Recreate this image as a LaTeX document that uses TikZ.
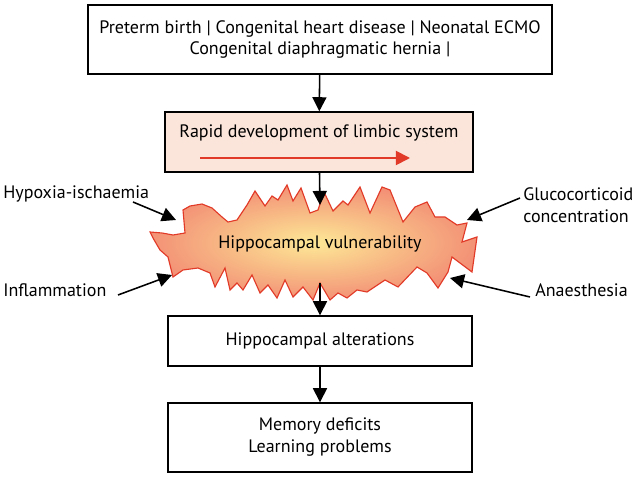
\documentclass[tikz,border=0pt]{standalone}
\usepackage{fontspec}
\setmainfont{PT Sans}
\usetikzlibrary{arrows.meta}
\definecolor{boxpink}{RGB}{251,228,218}
\definecolor{flamered}{RGB}{226,58,40}
\definecolor{flamecore}{RGB}{253,232,150}
\definecolor{flameedge}{RGB}{243,145,118}

\begin{document}
\begin{tikzpicture}[x=0.025cm,y=-0.025cm,
  every node/.style={font=\fontsize{12.8}{15.6}\selectfont},
  Box/.style={draw,line width=1pt,minimum width=7.6cm,align=center},
  Cause/.style={align=left,inner sep=0pt},
  Flow/.style={line width=1.1pt,-{Triangle[width=10pt,length=10pt]}}]
  \useasboundingbox (0,0) rectangle (638,477);
  \node[Box,minimum width=11.6cm,minimum height=1.725cm] (causes) at (320,39.5)
    {Preterm birth | Congenital heart disease | Neonatal ECMO\\Congenital diaphragmatic hernia |};
  \node[Box,fill=boxpink,minimum width=7.7cm,minimum height=1.5cm] (limbic) at (319,142) {};
  \node (limbtext) at (319,133) {Rapid development of limbic system};
  \coordinate (devstart) at (200,158);
  \coordinate (devend) at (410,158);
  \draw[line width=1.3pt,flamered,-{Triangle[width=10pt,length=10pt]}] (devstart) -- (devend);
  \shade[inner color=flamecore,outer color=flameedge,draw=flamered,line width=0.8pt]
    (183,210) -- (190,206) -- (202,204) -- (212,208) -- (222,217) -- (228,222) -- (237,220)
    -- (247,205) -- (255,191) -- (265,206) -- (272,196) -- (278,200) -- (287,185) -- (293,201)
    -- (301,188) -- (310,213) -- (318,210) -- (324,192) -- (333,211) -- (343,201) -- (348,205)
    -- (360,187) -- (370,213) -- (382,187) -- (390,190) -- (403,222) -- (415,207) -- (427,202)
    -- (435,217) -- (445,217) -- (457,225) -- (467,223) -- (462,242) -- (477,237) -- (472,272)
    -- (452,257) -- (448,272) -- (438,288) -- (427,273) -- (417,267) -- (398,287) -- (385,280)
    -- (367,292) -- (357,290) -- (347,298) -- (338,293) -- (330,300) -- (320,283) -- (313,300)
    -- (303,287) -- (293,297) -- (285,280) -- (277,298) -- (268,285) -- (260,293) -- (252,275)
    -- (243,290) -- (237,283) -- (230,290) -- (225,268) -- (215,287) -- (210,273) -- (198,268)
    -- (183,270) -- (173,277) -- (168,257) -- (160,250) -- (153,238) -- (150,232) -- (162,233)
    -- (173,235) -- (185,233) -- cycle;
  \node (vuln) at (320,244) {Hippocampal vulnerability};
  \coordinate (vtop) at (320,205);
  \coordinate (vbot) at (320,283);
  \node[Box,minimum height=1.25cm] (alter) at (320,341) {Hippocampal alterations};
  \node[Box,minimum height=1.725cm] (memory) at (320,437.5) {Memory deficits\\Learning problems};
  \node[Cause,anchor=west] (hypoxia) at (3,194) {Hypoxia-ischaemia};
  \node[Cause,anchor=west] (inflam) at (3,290) {Inflammation};
  \node[Cause,anchor=west] (gluco) at (523,205) {Glucocorticoid\\concentration};
  \node[Cause,anchor=west] (anaes) at (535,290) {Anaesthesia};
  \coordinate (hyptip) at (176,220);
  \coordinate (inftip) at (172,275);
  \coordinate (glutip) at (467,220);
  \coordinate (anatip) at (450,278);
  \draw[Flow] (causes) -- (limbic);
  \draw[Flow] (limbic) -- (vtop);
  \draw[Flow] (vbot) -- (alter);
  \draw[Flow] (alter) -- (memory);
  \draw[Flow] (133,202) -- (hyptip);
  \draw[Flow] (118,295) -- (inftip);
  \draw[Flow] (520,198) -- (glutip);
  \draw[Flow] (530,297) -- (anatip);
\end{tikzpicture}
\end{document}
